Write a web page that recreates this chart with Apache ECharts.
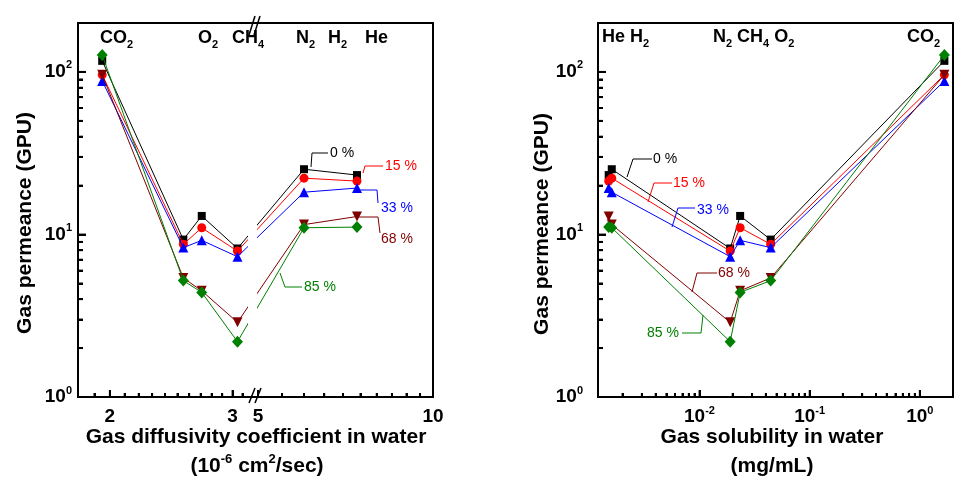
<!DOCTYPE html>
<html><head><meta charset="utf-8">
<script src="https://cdn.jsdelivr.net/npm/echarts@6/dist/echarts.min.js"></script>
<style>html,body{margin:0;padding:0;background:#fff}#c{width:968px;height:487px}</style>
</head><body><div id="c"></div><script>
// ---------- data ----------
const gases = ['CO2', 'O2', 'CH4', 'N2', 'H2', 'He'];
const diffusivity = [1.95, 2.55, 2.71, 3.05, 6.0, 7.4];        // 10^-6 cm2/s
const solubility = [1.67, 0.0443, 0.0234, 0.019, 0.0016, 0.0015]; // mg/mL
const humidityLabels = ['0 %', '15 %', '33 %', '68 %', '85 %'];
const perm_0  = [117, 9.3, 13.0, 8.2, 25.2, 23.2];
const perm_15 = [96, 8.7, 11.0, 7.9, 22.2, 21.3];
const perm_33 = [88, 8.3, 9.2, 7.3, 18.2, 19.3];
const perm_68 = [96, 5.4, 4.5, 2.88, 11.5, 12.9];
const perm_85 = [127, 5.2, 4.4, 2.19, 11.0, 11.1];
const diffMajorTicks = [2, 3, 5, 10];
const diffMinorTicks = [1.9, 2.1, 2.2, 2.3, 2.4, 2.5, 2.6, 2.7, 2.8, 2.9, 3.1, 5.5, 6, 6.5, 7, 7.5, 8, 8.5, 9, 9.5];
const solMajorTicks = [0.01, 0.1, 1];
const solMinorTicks = [0.002,0.003,0.004,0.005,0.006,0.007,0.008,0.009,0.02,0.03,0.04,0.05,0.06,0.07,0.08,0.09,0.2,0.3,0.4,0.5,0.6,0.7,0.8,0.9];
const permMajorTicks = [1, 10, 100];
const permMinorTicks = [2,3,4,5,6,7,8,9,20,30,40,50,60,70,80,90];

// ---------- scales ----------
const F = '"Liberation Sans", Arial, sans-serif';
const segA = [1.8, 3.2], segB = [5, 10];
const SPAN_A = 174, GAP = 6, SPAN_B = 175, XMAX = SPAN_A + GAP + SPAN_B;
function diffToAxis(v) {
  if (v <= segA[1]) return Math.log10(v / segA[0]) / Math.log10(segA[1] / segA[0]) * SPAN_A;
  return SPAN_A + GAP + Math.log10(v / segB[0]) / Math.log10(segB[1] / segB[0]) * SPAN_B;
}
const lg = v => Math.log10(v);
const solMin = 0.0012, solMax = 2, permMin = 1, permMax = 200;
const xMinOf = [0, lg(solMin)], xMaxOf = [XMAX, lg(solMax)];

const permSets = [perm_0, perm_15, perm_33, perm_68, perm_85];
const styles = [
  {color: '#000000', symbol: 'rect', size: 8, rot: 0},
  {color: '#ff0000', symbol: 'circle', size: 9, rot: 0},
  {color: '#0000ff', symbol: 'triangle', size: 10, rot: 0},
  {color: '#800000', symbol: 'triangle', size: 10, rot: 180},
  {color: '#008000', symbol: 'diamond', size: [11, 12], rot: 0}
];

const supRich = {
  b: {fontSize: 19, fontWeight: 'bold', fontFamily: F, color: '#000', lineHeight: 24},
  s: {fontSize: 11, fontWeight: 'bold', fontFamily: F, color: '#000', lineHeight: 10, verticalAlign: 'top'}
};
const powLabel = v => '{b|10}{s|' + Math.round(v) + '}';
const tickLine = () => ({color: '#000', width: 2});

const diffLabelFmt = v => {
  for (const d of diffMajorTicks) if (Math.abs(diffToAxis(d) - v) < 1e-6) return '{b|' + d + '}';
  return '';
};
const solLabelFmt = v => '{b|10}{s|' + (Math.round(v) < 0 ? '-' : '') + Math.abs(Math.round(v)) + '}';

const xMajorVals = [diffMajorTicks.map(diffToAxis), solMajorTicks.map(lg)];
const xMinorVals = [diffMinorTicks.map(diffToAxis), solMinorTicks.map(lg)];
const xFmts = [diffLabelFmt, solLabelFmt];

const xAxes = [], yAxes = [];
[0, 1].forEach(gi => {
  xAxes.push({gridIndex: gi, type: 'value', position: 'bottom', min: xMinOf[gi], max: xMaxOf[gi],
    axisLine: {show: true, onZero: false, lineStyle: {color: '#000', width: 2}}, splitLine: {show: false},
    axisTick: {show: true, inside: true, length: 7, customValues: xMajorVals[gi], lineStyle: tickLine()},
    axisLabel: {show: true, customValues: xMajorVals[gi], formatter: xFmts[gi], rich: supRich, margin: 8,
      color: '#000', fontSize: 19, fontWeight: 'bold', fontFamily: F}});
  yAxes.push({gridIndex: gi, type: 'value', position: 'left', min: lg(permMin), max: lg(permMax),
    axisLine: {show: true, onZero: false, lineStyle: {color: '#000', width: 2}}, splitLine: {show: false},
    axisTick: {show: true, inside: true, length: 8, customValues: permMajorTicks.map(lg), lineStyle: tickLine()},
    axisLabel: {show: true, customValues: permMajorTicks.map(lg), formatter: powLabel, rich: supRich, margin: gi === 0 ? 6 : 15}});
});
[0, 1].forEach(gi => {
  xAxes.push({gridIndex: gi, type: 'value', position: 'bottom', min: xMinOf[gi], max: xMaxOf[gi],
    axisLine: {show: true, onZero: false, lineStyle: {color: '#000', width: 2}}, splitLine: {show: false},
    axisTick: {show: true, inside: true, length: 4, customValues: xMinorVals[gi], lineStyle: tickLine()},
    axisLabel: {show: true, customValues: xMinorVals[gi], formatter: () => ''}});
  yAxes.push({gridIndex: gi, type: 'value', position: 'left', min: lg(permMin), max: lg(permMax),
    axisLine: {show: true, onZero: false, lineStyle: {color: '#000', width: 2}}, splitLine: {show: false},
    axisTick: {show: true, inside: true, length: 5, customValues: permMinorTicks.map(lg), lineStyle: tickLine()},
    axisLabel: {show: true, customValues: permMinorTicks.map(lg), formatter: () => ''}});
});

// data series
const series = [];
permSets.forEach((p, i) => {
  const st = styles[i];
  const left = diffusivity.map((d, k) => [diffToAxis(d), lg(p[k])]).sort((a, b) => a[0] - b[0]);
  const right = solubility.map((s, k) => [lg(s), lg(p[k])]).sort((a, b) => a[0] - b[0]);
  [[0, left], [1, right]].forEach(([ax, data]) => {
    series.push({type: 'line', name: humidityLabels[i], xAxisIndex: ax, yAxisIndex: ax, data: data,
      symbol: st.symbol, symbolSize: st.size, symbolRotate: st.rot, showSymbol: true, showAllSymbol: true,
      lineStyle: {color: st.color, width: 1}, itemStyle: {color: st.color}, z: 12 + i, animation: false, clip: false});
  });
});

// tick marks also drawn as thin rect symbols on the axes' scales
function tickSeries(ax, data, size, offset) {
  return {type: 'scatter', xAxisIndex: ax, yAxisIndex: ax, data: data, symbol: 'rect', symbolSize: size,
    symbolOffset: offset, itemStyle: {color: '#000'}, silent: true, clip: false, z: 10, animation: false};
}
[0, 1].forEach(ax => {
  series.push(tickSeries(ax, xMajorVals[ax].filter(x => x < xMaxOf[ax] - 1e-6).map(x => [x, lg(permMin)]), [2, 7], [0, -3.5]));
  series.push(tickSeries(ax, xMinorVals[ax].map(x => [x, lg(permMin)]), [2, 4], [0, -2]));
  series.push(tickSeries(ax, permMajorTicks.filter(p => p > 1).map(p => [xMinOf[ax], lg(p)]), [8, 2], [4, 0]));
  series.push(tickSeries(ax, permMinorTicks.map(p => [xMinOf[ax], lg(p)]), [5, 2], [2.5, 0]));
});

// ---------- annotations ----------
const gasRich = {
  b: {fontSize: 18, fontWeight: 'bold', fontFamily: F, fill: '#000', lineHeight: 24},
  s: {fontSize: 11, fontWeight: 'bold', fontFamily: F, fill: '#000', lineHeight: 8, verticalAlign: 'bottom'}
};
function T(x, y, text, rich, extra) {
  return Object.assign({type: 'text', z: 100, x: x, y: y,
    style: {text: text, rich: rich, align: 'left', verticalAlign: 'middle', textAlign: 'left', textVerticalAlign: 'middle'}}, extra || {});
}
function TC(x, y, text, rich, extra) {
  const e = T(x, y, text, rich, extra);
  e.style.align = 'center'; e.style.textAlign = 'center';
  return e;
}
const g = [];
g.push(T(100, 38, '{b|CO}{s|2}', gasRich));
g.push(T(198, 38, '{b|O}{s|2}', gasRich));
g.push(T(232, 38, '{b|CH}{s|4}', gasRich));
g.push(T(296, 38, '{b|N}{s|2}', gasRich));
g.push(T(328, 38, '{b|H}{s|2}', gasRich));
g.push(T(365, 38, '{b|He}', gasRich));
g.push(T(602, 37, '{b|He H}{s|2}', gasRich));
g.push(T(713, 37, '{b|N}{s|2}{b| CH}{s|4}{b| O}{s|2}', gasRich));
g.push(T(907, 37, '{b|CO}{s|2}', gasRich));

// break: white gap + // marks
g.push({type: 'rect', z: 90, shape: {x: 248, y: 25, width: 9, height: 370}, style: {fill: '#fff'}});
[[249, 35, 255, 16], [254, 35, 260, 16], [249, 403, 255, 388], [255, 403, 261, 388]].forEach(c => {
  g.push({type: 'line', z: 95, shape: {x1: c[0], y1: c[1], x2: c[2], y2: c[3]}, style: {stroke: '#000', lineWidth: 1.5}});
});

const pct = [
  {t: 0, x: 330, y: 153, pts: [[311, 167], [312, 153], [328, 153]]},
  {t: 1, x: 385, y: 166, pts: [[363, 173], [365, 166], [383, 166]]},
  {t: 2, x: 381, y: 208, pts: [[359, 190], [377, 190], [378, 203]]},
  {t: 3, x: 381, y: 239, pts: [[359, 217], [378, 217], [380, 233]]},
  {t: 4, x: 304, y: 287, pts: [[302, 287], [285, 287], [280, 273]]},
  {t: 0, x: 653, y: 159, pts: [[652, 159], [633, 159], [627, 177]]},
  {t: 1, x: 673, y: 183, pts: [[672, 183], [654, 183], [648, 202]]},
  {t: 2, x: 697, y: 210, pts: [[695, 208], [678, 208], [672, 227]]},
  {t: 3, x: 718, y: 273, pts: [[717, 273], [697, 273], [692, 292]]},
  {t: 4, x: 647, y: 333, pts: [[682, 333], [701, 333], [703, 315]]}
];
pct.forEach(p => {
  const col = styles[p.t].color;
  g.push({type: 'polyline', z: 100, shape: {points: p.pts}, style: {stroke: col, lineWidth: 1, fill: null}});
  g.push({type: 'text', z: 100, x: p.x, y: p.y, style: {text: humidityLabels[p.t], fill: col,
    font: '14px ' + F, align: 'left', verticalAlign: 'middle', textAlign: 'left', textVerticalAlign: 'middle'}});
});

const titleRich = {
  t: {fontSize: 21, fontWeight: 'bold', fontFamily: F, fill: '#000', lineHeight: 26},
  u: {fontSize: 13, fontWeight: 'bold', fontFamily: F, fill: '#000', lineHeight: 12, verticalAlign: 'top'}
};
g.push(TC(256, 437, '{t|Gas diffusivity coefficient in water}', titleRich));
g.push(TC(257, 466, '{t|(10}{u|-6}{t| cm}{u|2}{t|/sec)}', titleRich));
g.push(TC(772, 437, '{t|Gas solubility in water}', titleRich));
g.push(TC(772, 466, '{t|(mg/mL)}', titleRich));
g.push(TC(25, 223, '{t|Gas permeance (GPU)}', titleRich, {rotation: Math.PI / 2}));
g.push(TC(542, 224, '{t|Gas permeance (GPU)}', titleRich, {rotation: Math.PI / 2}));

const option = {
  animation: false,
  backgroundColor: '#fff',
  grid: [
    {left: 78, top: 23, width: 355, height: 374, show: true, borderColor: '#000', borderWidth: 2},
    {left: 598, top: 23, width: 355, height: 374, show: true, borderColor: '#000', borderWidth: 2}
  ],
  xAxis: xAxes,
  yAxis: yAxes,
  series: series,
  graphic: g
};
const chart = echarts.init(document.getElementById('c'), null, {renderer: 'canvas'});
chart.setOption(option);
</script></body></html>
